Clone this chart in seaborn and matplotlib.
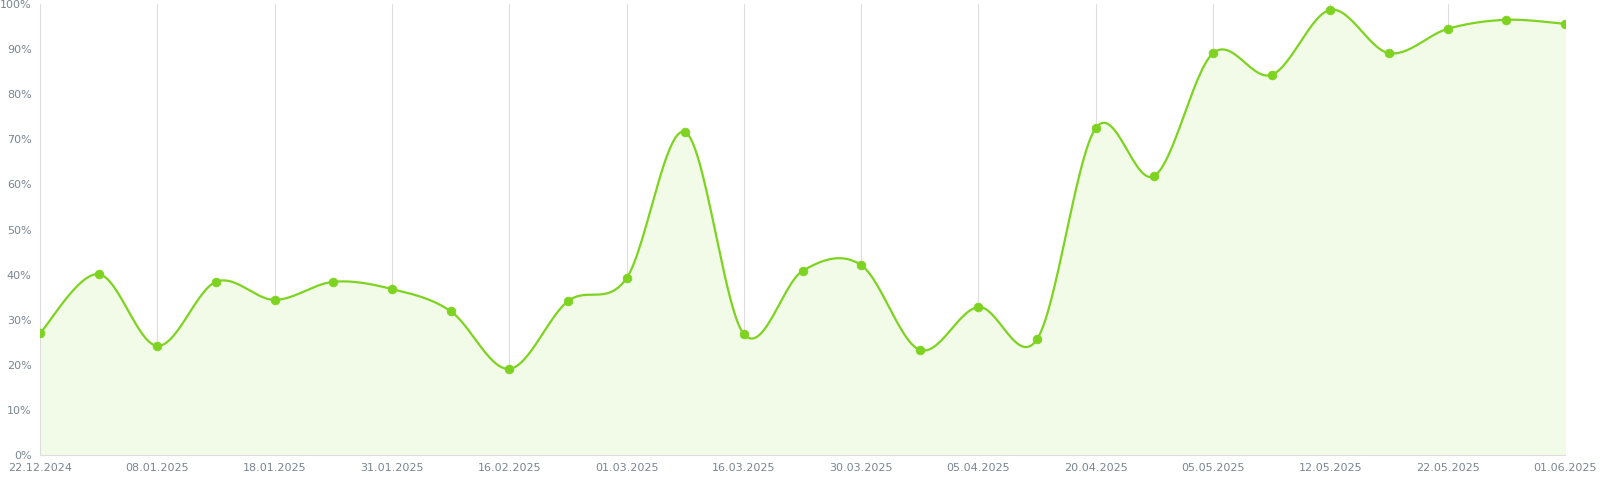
import numpy as np
import pandas as pd
import seaborn as sns
import matplotlib.pyplot as plt

values = [27.0, 40.1, 24.2, 38.4, 34.4, 38.4, 36.8, 31.9, 19.1, 34.1, 39.2, 71.6, 26.8, 40.8,
          42.1, 23.3, 32.8, 25.7, 72.5, 61.9, 89.1, 84.3, 98.7, 89.1, 94.5, 96.5, 95.6]
date_labels = ["22.12.2024", "08.01.2025", "18.01.2025", "31.01.2025", "16.02.2025", "01.03.2025",
               "16.03.2025", "30.03.2025", "05.04.2025", "20.04.2025", "05.05.2025", "12.05.2025",
               "22.05.2025", "01.06.2025"]

df = pd.DataFrame({"idx": np.arange(len(values)), "value": values})

# Catmull-Rom smoothing between points
def smooth(x, y, n=30):
    px = np.concatenate([[x[0]], x, [x[-1]]])
    py = np.concatenate([[y[0]], y, [y[-1]]])
    xs, ys = [], []
    t = np.linspace(0, 1, n, endpoint=False)
    for i in range(1, len(px) - 2):
        for p, out in ((px, xs), (py, ys)):
            p0, p1, p2, p3 = p[i - 1], p[i], p[i + 1], p[i + 2]
            out.extend(0.5 * (2 * p1 + (-p0 + p2) * t + (2 * p0 - 5 * p1 + 4 * p2 - p3) * t**2
                              + (-p0 + 3 * p1 - 3 * p2 + p3) * t**3))
    xs.append(x[-1]); ys.append(y[-1])
    return np.array(xs), np.array(ys)

sx, sy = smooth(df["idx"].values.astype(float), df["value"].values)

sns.set_style("white")
fig = plt.figure(figsize=(16, 4.95), dpi=100)
ax = fig.add_axes([40 / 1600, 40 / 495, 1525 / 1600, 451 / 495])

green = "#7ed321"
ax.fill_between(sx, 0, sy, color="#f2fbe8", zorder=1)
ax.plot(sx, sy, color=green, lw=1.6, zorder=3)
sns.scatterplot(data=df, x="idx", y="value", color=green, s=40, edgecolor=green, ax=ax, zorder=4)

ticks = np.arange(0, len(values), 2)
for t in ticks[1:]:
    ax.axvline(t, color="#dddddd", lw=0.8, zorder=0)
ax.set_xticks(ticks)
ax.set_xticklabels(date_labels)
ax.set_yticks(range(0, 101, 10))
ax.set_yticklabels([f"{v}%" for v in range(0, 101, 10)])
ax.set_xlim(0, len(values) - 1)
ax.set_ylim(0, 100)
ax.tick_params(colors="#7a8590", labelsize=8, length=0, pad=6)
ax.set_xlabel("")
ax.set_ylabel("")
for s in ["top", "right"]:
    ax.spines[s].set_visible(False)
for s in ["left", "bottom"]:
    ax.spines[s].set_color("#dddddd")
    ax.spines[s].set_linewidth(0.8)

fig.savefig("out.png", dpi=100)
